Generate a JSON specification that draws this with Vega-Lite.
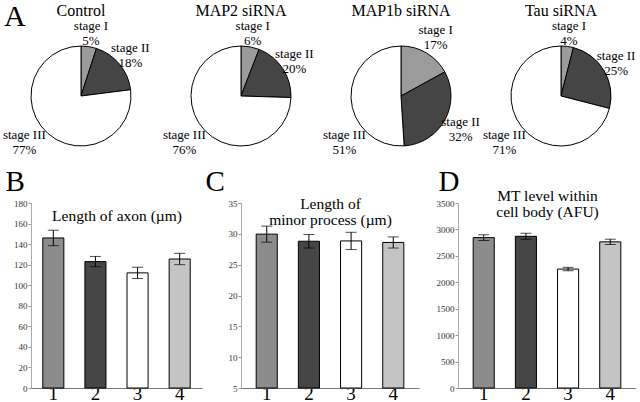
{
  "$schema": "https://vega.github.io/schema/vega-lite/v6.json",
  "padding": {"left": 2, "top": 2, "right": 0, "bottom": 0},
  "background": "white",
  "config": {
    "view": {"stroke": null},
    "font": "Liberation Serif",
    "text": {"font": "Liberation Serif", "color": "black"}
  },
  "datasets": {
    "pies": [
      {"group": "Control", "stage": "stage I", "pct": 5},
      {"group": "Control", "stage": "stage II", "pct": 18},
      {"group": "Control", "stage": "stage III", "pct": 77},
      {"group": "MAP2 siRNA", "stage": "stage I", "pct": 6},
      {"group": "MAP2 siRNA", "stage": "stage II", "pct": 20},
      {"group": "MAP2 siRNA", "stage": "stage III", "pct": 76},
      {"group": "MAP1b siRNA", "stage": "stage I", "pct": 17},
      {"group": "MAP1b siRNA", "stage": "stage II", "pct": 32},
      {"group": "MAP1b siRNA", "stage": "stage III", "pct": 51},
      {"group": "Tau siRNA", "stage": "stage I", "pct": 4},
      {"group": "Tau siRNA", "stage": "stage II", "pct": 25},
      {"group": "Tau siRNA", "stage": "stage III", "pct": 71}
    ],
    "bars": [
      {"panel": "B", "cond": "1", "mean": 146, "err": 7.5},
      {"panel": "B", "cond": "2", "mean": 123, "err": 5},
      {"panel": "B", "cond": "3", "mean": 112, "err": 5.5},
      {"panel": "B", "cond": "4", "mean": 125.5, "err": 5.5},
      {"panel": "C", "cond": "1", "mean": 29.95, "err": 1.3},
      {"panel": "C", "cond": "2", "mean": 28.8, "err": 1.1},
      {"panel": "C", "cond": "3", "mean": 28.85, "err": 1.4},
      {"panel": "C", "cond": "4", "mean": 28.6, "err": 0.9},
      {"panel": "D", "cond": "1", "mean": 2845, "err": 54},
      {"panel": "D", "cond": "2", "mean": 2870, "err": 57},
      {"panel": "D", "cond": "3", "mean": 2250, "err": 32},
      {"panel": "D", "cond": "4", "mean": 2765, "err": 50}
    ]
  },
  "bounds": "flush",
  "spacing": 157,
  "resolve": {"scale": {"color": "independent", "x": "independent", "y": "independent", "theta": "independent"}},
  "vconcat": [
    {
      "bounds": "flush",
      "spacing": 60,
      "resolve": {"scale": {"color": "independent", "theta": "independent"}},
      "hconcat": [
        {
          "width": 100, "height": 100,
          "data": {"name": "pies"},
          "transform": [{"filter": {"field": "group", "equal": "Control"}}, {"calculate": "datum.stage + '\\n' + datum.pct + '%'", "as": "label"}],
          "layer": [
            {"mark": {"type": "arc", "outerRadius": 50, "stroke": "black", "strokeWidth": 1},
             "encoding": {"theta": {"field": "pct", "type": "quantitative", "stack": true},
                          "color": {"field": "stage", "type": "nominal", "scale": {"domain": ["stage I", "stage II", "stage III"], "range": ["#9b9b9b", "#454545", "#ffffff"]}, "legend": null},
                          "order": {"field": "stage"}}},
            {"transform": [{"filter": "datum.stage !== 'stage III'"}],
             "mark": {"type": "text", "radius": 64, "dy": -7, "fontSize": 13, "lineHeight": 15, "lineBreak": "\n"},
             "encoding": {"theta": {"field": "pct", "type": "quantitative", "stack": true}, "detail": {"field": "stage"}, "order": {"field": "stage"}, "text": {"field": "label"}}},
            {"transform": [{"filter": "datum.stage === 'stage III'"}],
             "mark": {"type": "text", "radius": 73, "theta": 4.03, "dy": -7, "fontSize": 13, "lineHeight": 15, "lineBreak": "\n"},
             "encoding": {"text": {"field": "label"}}},
            {"data": {"values": [{"t": "Control"}]},
             "mark": {"type": "text", "radius": 80, "theta": 0, "baseline": "alphabetic", "fontSize": 16},
             "encoding": {"text": {"field": "t"}}},
            {"data": {"values": [{"t": "A"}]},
             "mark": {"type": "text", "x": -27, "y": -20, "align": "left", "baseline": "alphabetic", "fontSize": 30},
             "encoding": {"text": {"field": "t"}}}
          ]
        },
        {
          "width": 100, "height": 100,
          "data": {"name": "pies"},
          "transform": [{"filter": {"field": "group", "equal": "MAP2 siRNA"}}, {"calculate": "datum.stage + '\\n' + datum.pct + '%'", "as": "label"}],
          "layer": [
            {"mark": {"type": "arc", "outerRadius": 50, "stroke": "black", "strokeWidth": 1},
             "encoding": {"theta": {"field": "pct", "type": "quantitative", "stack": true},
                          "color": {"field": "stage", "type": "nominal", "scale": {"domain": ["stage I", "stage II", "stage III"], "range": ["#9b9b9b", "#454545", "#ffffff"]}, "legend": null},
                          "order": {"field": "stage"}}},
            {"transform": [{"filter": "datum.stage !== 'stage III'"}],
             "mark": {"type": "text", "radius": 64, "dy": -7, "fontSize": 13, "lineHeight": 15, "lineBreak": "\n"},
             "encoding": {"theta": {"field": "pct", "type": "quantitative", "stack": true}, "detail": {"field": "stage"}, "order": {"field": "stage"}, "text": {"field": "label"}}},
            {"transform": [{"filter": "datum.stage === 'stage III'"}],
             "mark": {"type": "text", "radius": 73, "theta": 4.03, "dy": -7, "fontSize": 13, "lineHeight": 15, "lineBreak": "\n"},
             "encoding": {"text": {"field": "label"}}},
            {"data": {"values": [{"t": "MAP2 siRNA"}]},
             "mark": {"type": "text", "radius": 80, "theta": 0, "baseline": "alphabetic", "fontSize": 16},
             "encoding": {"text": {"field": "t"}}}
          ]
        },
        {
          "width": 100, "height": 100,
          "data": {"name": "pies"},
          "transform": [{"filter": {"field": "group", "equal": "MAP1b siRNA"}}, {"calculate": "datum.stage + '\\n' + datum.pct + '%'", "as": "label"}],
          "layer": [
            {"mark": {"type": "arc", "outerRadius": 50, "stroke": "black", "strokeWidth": 1},
             "encoding": {"theta": {"field": "pct", "type": "quantitative", "stack": true},
                          "color": {"field": "stage", "type": "nominal", "scale": {"domain": ["stage I", "stage II", "stage III"], "range": ["#9b9b9b", "#454545", "#ffffff"]}, "legend": null},
                          "order": {"field": "stage"}}},
            {"transform": [{"filter": "datum.stage !== 'stage III'"}],
             "mark": {"type": "text", "radius": 68, "dy": -7, "fontSize": 13, "lineHeight": 15, "lineBreak": "\n"},
             "encoding": {"theta": {"field": "pct", "type": "quantitative", "stack": true}, "detail": {"field": "stage"}, "order": {"field": "stage"}, "text": {"field": "label"}}},
            {"transform": [{"filter": "datum.stage === 'stage III'"}],
             "mark": {"type": "text", "radius": 73, "theta": 4.03, "dy": -7, "fontSize": 13, "lineHeight": 15, "lineBreak": "\n"},
             "encoding": {"text": {"field": "label"}}},
            {"data": {"values": [{"t": "MAP1b siRNA"}]},
             "mark": {"type": "text", "radius": 80, "theta": 0, "baseline": "alphabetic", "fontSize": 16},
             "encoding": {"text": {"field": "t"}}}
          ]
        },
        {
          "width": 100, "height": 100,
          "data": {"name": "pies"},
          "transform": [{"filter": {"field": "group", "equal": "Tau siRNA"}}, {"calculate": "datum.stage + '\\n' + datum.pct + '%'", "as": "label"}],
          "layer": [
            {"mark": {"type": "arc", "outerRadius": 50, "stroke": "black", "strokeWidth": 1},
             "encoding": {"theta": {"field": "pct", "type": "quantitative", "stack": true},
                          "color": {"field": "stage", "type": "nominal", "scale": {"domain": ["stage I", "stage II", "stage III"], "range": ["#9b9b9b", "#454545", "#ffffff"]}, "legend": null},
                          "order": {"field": "stage"}}},
            {"transform": [{"filter": "datum.stage !== 'stage III'"}],
             "mark": {"type": "text", "radius": 64, "dy": -7, "fontSize": 13, "lineHeight": 15, "lineBreak": "\n"},
             "encoding": {"theta": {"field": "pct", "type": "quantitative", "stack": true}, "detail": {"field": "stage"}, "order": {"field": "stage"}, "text": {"field": "label"}}},
            {"transform": [{"filter": "datum.stage === 'stage III'"}],
             "mark": {"type": "text", "radius": 73, "theta": 4.03, "dy": -7, "fontSize": 13, "lineHeight": 15, "lineBreak": "\n"},
             "encoding": {"text": {"field": "label"}}},
            {"data": {"values": [{"t": "Tau siRNA"}]},
             "mark": {"type": "text", "radius": 80, "theta": 0, "baseline": "alphabetic", "fontSize": 16},
             "encoding": {"text": {"field": "t"}}}
          ]
        }
      ]
    },
    {
      "bounds": "flush",
      "spacing": 39,
      "resolve": {"scale": {"color": "independent", "x": "independent", "y": "independent"}},
      "hconcat": [
        {
          "width": 171, "height": 185,
          "data": {"name": "bars"},
          "transform": [{"filter": {"field": "panel", "equal": "B"}}],
          "encoding": {
            "x": {"field": "cond", "type": "ordinal", "scale": {"paddingInner": 0.5, "paddingOuter": 0.28},
                  "axis": {"labelAngle": 0, "labelFontSize": 19, "labelColor": "black", "labelFont": "Liberation Serif", "ticks": false, "domainColor": "#777", "labelBaseline": "alphabetic", "labelPadding": 11,
                           "title": "Length of axon (µm)", "titleY": -167.5, "titleBaseline": "alphabetic", "titleFont": "Liberation Serif", "titleFontSize": 15.5, "titleFontWeight": "normal", "titleColor": "black", "titleLineHeight": 16}},
            "y": {"field": "mean", "type": "quantitative", "scale": {"domain": [0, 180], "nice": false, "zero": true},
                  "axis": {"values": [0, 20, 40, 60, 80, 100, 120, 140, 160, 180], "format": "d", "grid": false, "labelFont": "Liberation Serif", "labelFontSize": 9, "labelColor": "#333", "tickSize": 3, "tickColor": "#999", "domainColor": "#aaa", "labelPadding": 1,
                           "title": "B", "titleAngle": 0, "titleX": -26, "titleY": -12.5, "titleAlign": "left", "titleBaseline": "alphabetic", "titleFont": "Liberation Serif", "titleFontSize": 29, "titleFontWeight": "normal", "titleColor": "black"}}
          },
          "layer": [
            {"mark": {"type": "bar", "stroke": "black", "strokeWidth": 1},
             "encoding": {"color": {"field": "cond", "type": "nominal", "scale": {"domain": ["1", "2", "3", "4"], "range": ["#8c8c8c", "#464646", "#ffffff", "#c4c4c4"]}, "legend": null}}},
            {"mark": {"type": "errorbar", "ticks": {"size": 11, "color": "black"}, "color": "black"},
             "encoding": {"yError": {"field": "err"}}}
          ]
        },
        {
          "width": 178, "height": 185,
          "data": {"name": "bars"},
          "transform": [{"filter": {"field": "panel", "equal": "C"}}],
          "encoding": {
            "x": {"field": "cond", "type": "ordinal", "scale": {"paddingInner": 0.5, "paddingOuter": 0.36},
                  "axis": {"labelAngle": 0, "labelFontSize": 19, "labelColor": "black", "labelFont": "Liberation Serif", "ticks": false, "domainColor": "#777", "labelBaseline": "alphabetic", "labelPadding": 11,
                           "title": ["Length of", "minor process (µm)"], "titleY": -180, "titleBaseline": "alphabetic", "titleFont": "Liberation Serif", "titleFontSize": 15.5, "titleFontWeight": "normal", "titleColor": "black", "titleLineHeight": 16}},
            "y": {"field": "mean", "type": "quantitative", "scale": {"domain": [5, 35], "nice": false, "zero": false},
                  "axis": {"values": [5, 10, 15, 20, 25, 30, 35], "format": "d", "grid": false, "labelFont": "Liberation Serif", "labelFontSize": 9, "labelColor": "#333", "tickSize": 3, "tickColor": "#999", "domainColor": "#aaa", "labelPadding": 1,
                           "title": "C", "titleAngle": 0, "titleX": -36, "titleY": -12.5, "titleAlign": "left", "titleBaseline": "alphabetic", "titleFont": "Liberation Serif", "titleFontSize": 29, "titleFontWeight": "normal", "titleColor": "black"}}
          },
          "layer": [
            {"mark": {"type": "bar", "stroke": "black", "strokeWidth": 1},
             "encoding": {"y2": {"datum": 5},
                          "color": {"field": "cond", "type": "nominal", "scale": {"domain": ["1", "2", "3", "4"], "range": ["#8c8c8c", "#464646", "#ffffff", "#c4c4c4"]}, "legend": null}}},
            {"mark": {"type": "errorbar", "ticks": {"size": 11, "color": "black"}, "color": "black"},
             "encoding": {"yError": {"field": "err"}}}
          ]
        },
        {
          "width": 178, "height": 185,
          "data": {"name": "bars"},
          "transform": [{"filter": {"field": "panel", "equal": "D"}}],
          "encoding": {
            "x": {"field": "cond", "type": "ordinal", "scale": {"paddingInner": 0.5, "paddingOuter": 0.36},
                  "axis": {"labelAngle": 0, "labelFontSize": 19, "labelColor": "black", "labelFont": "Liberation Serif", "ticks": false, "domainColor": "#777", "labelBaseline": "alphabetic", "labelPadding": 11,
                           "title": ["MT level within", "cell body (AFU)"], "titleY": -187.5, "titleBaseline": "alphabetic", "titleFont": "Liberation Serif", "titleFontSize": 15.5, "titleFontWeight": "normal", "titleColor": "black", "titleLineHeight": 16}},
            "y": {"field": "mean", "type": "quantitative", "scale": {"domain": [0, 3500], "nice": false, "zero": true},
                  "axis": {"values": [0, 500, 1000, 1500, 2000, 2500, 3000, 3500], "format": "d", "grid": false, "labelFont": "Liberation Serif", "labelFontSize": 9, "labelColor": "#333", "tickSize": 3, "tickColor": "#999", "domainColor": "#aaa", "labelPadding": 1,
                           "title": "D", "titleAngle": 0, "titleX": -20, "titleY": -12.5, "titleAlign": "left", "titleBaseline": "alphabetic", "titleFont": "Liberation Serif", "titleFontSize": 29, "titleFontWeight": "normal", "titleColor": "black"}}
          },
          "layer": [
            {"mark": {"type": "bar", "stroke": "black", "strokeWidth": 1},
             "encoding": {"color": {"field": "cond", "type": "nominal", "scale": {"domain": ["1", "2", "3", "4"], "range": ["#8c8c8c", "#464646", "#ffffff", "#c4c4c4"]}, "legend": null}}},
            {"mark": {"type": "errorbar", "ticks": {"size": 11, "color": "black"}, "color": "black"},
             "encoding": {"yError": {"field": "err"}}}
          ]
        }
      ]
    }
  ]
}
